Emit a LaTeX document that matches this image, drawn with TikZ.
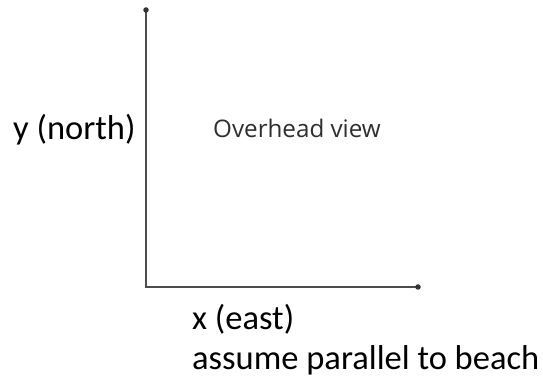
\documentclass[tikz,border=0pt]{standalone}
\usepackage{fontspec}
\setmainfont{Carlito}
\newfontfamily\ohfont{Open Sans}
\begin{document}
\begin{tikzpicture}[x=1pt,y=1pt,
  axisline/.style={draw=black!70, line width=2.5pt, line cap=round, line join=miter},
  enddot/.style={circle, fill=black!80, inner sep=0pt, minimum size=5.5pt},
  label/.style={anchor=base west, inner sep=0pt, font=\fontsize{34.5}{42}\selectfont, text=black},
  ohlabel/.style={anchor=base west, inner sep=0pt, font=\ohfont\fontsize{24.2}{28}\selectfont, text=black!82}]
\useasboundingbox (0,0) rectangle (543,377);
\coordinate (top) at (146,367);
\coordinate (origin) at (146,90);
\coordinate (right) at (418,90);
\draw[axisline] (top) -- (origin) -- (right);
\node[enddot] (topdot) at (top) {};
\node[enddot] (rightdot) at (right) {};
\node[label] (ylab) at (13,237) {y (north)};
\node[ohlabel] (oh) at (213,239) {Overhead view};
\node[label] (xlab) at (192,47) {x (east)};
\node[label] (beach) at (192,7.5) {assume parallel to beach};
\end{tikzpicture}
\end{document}
